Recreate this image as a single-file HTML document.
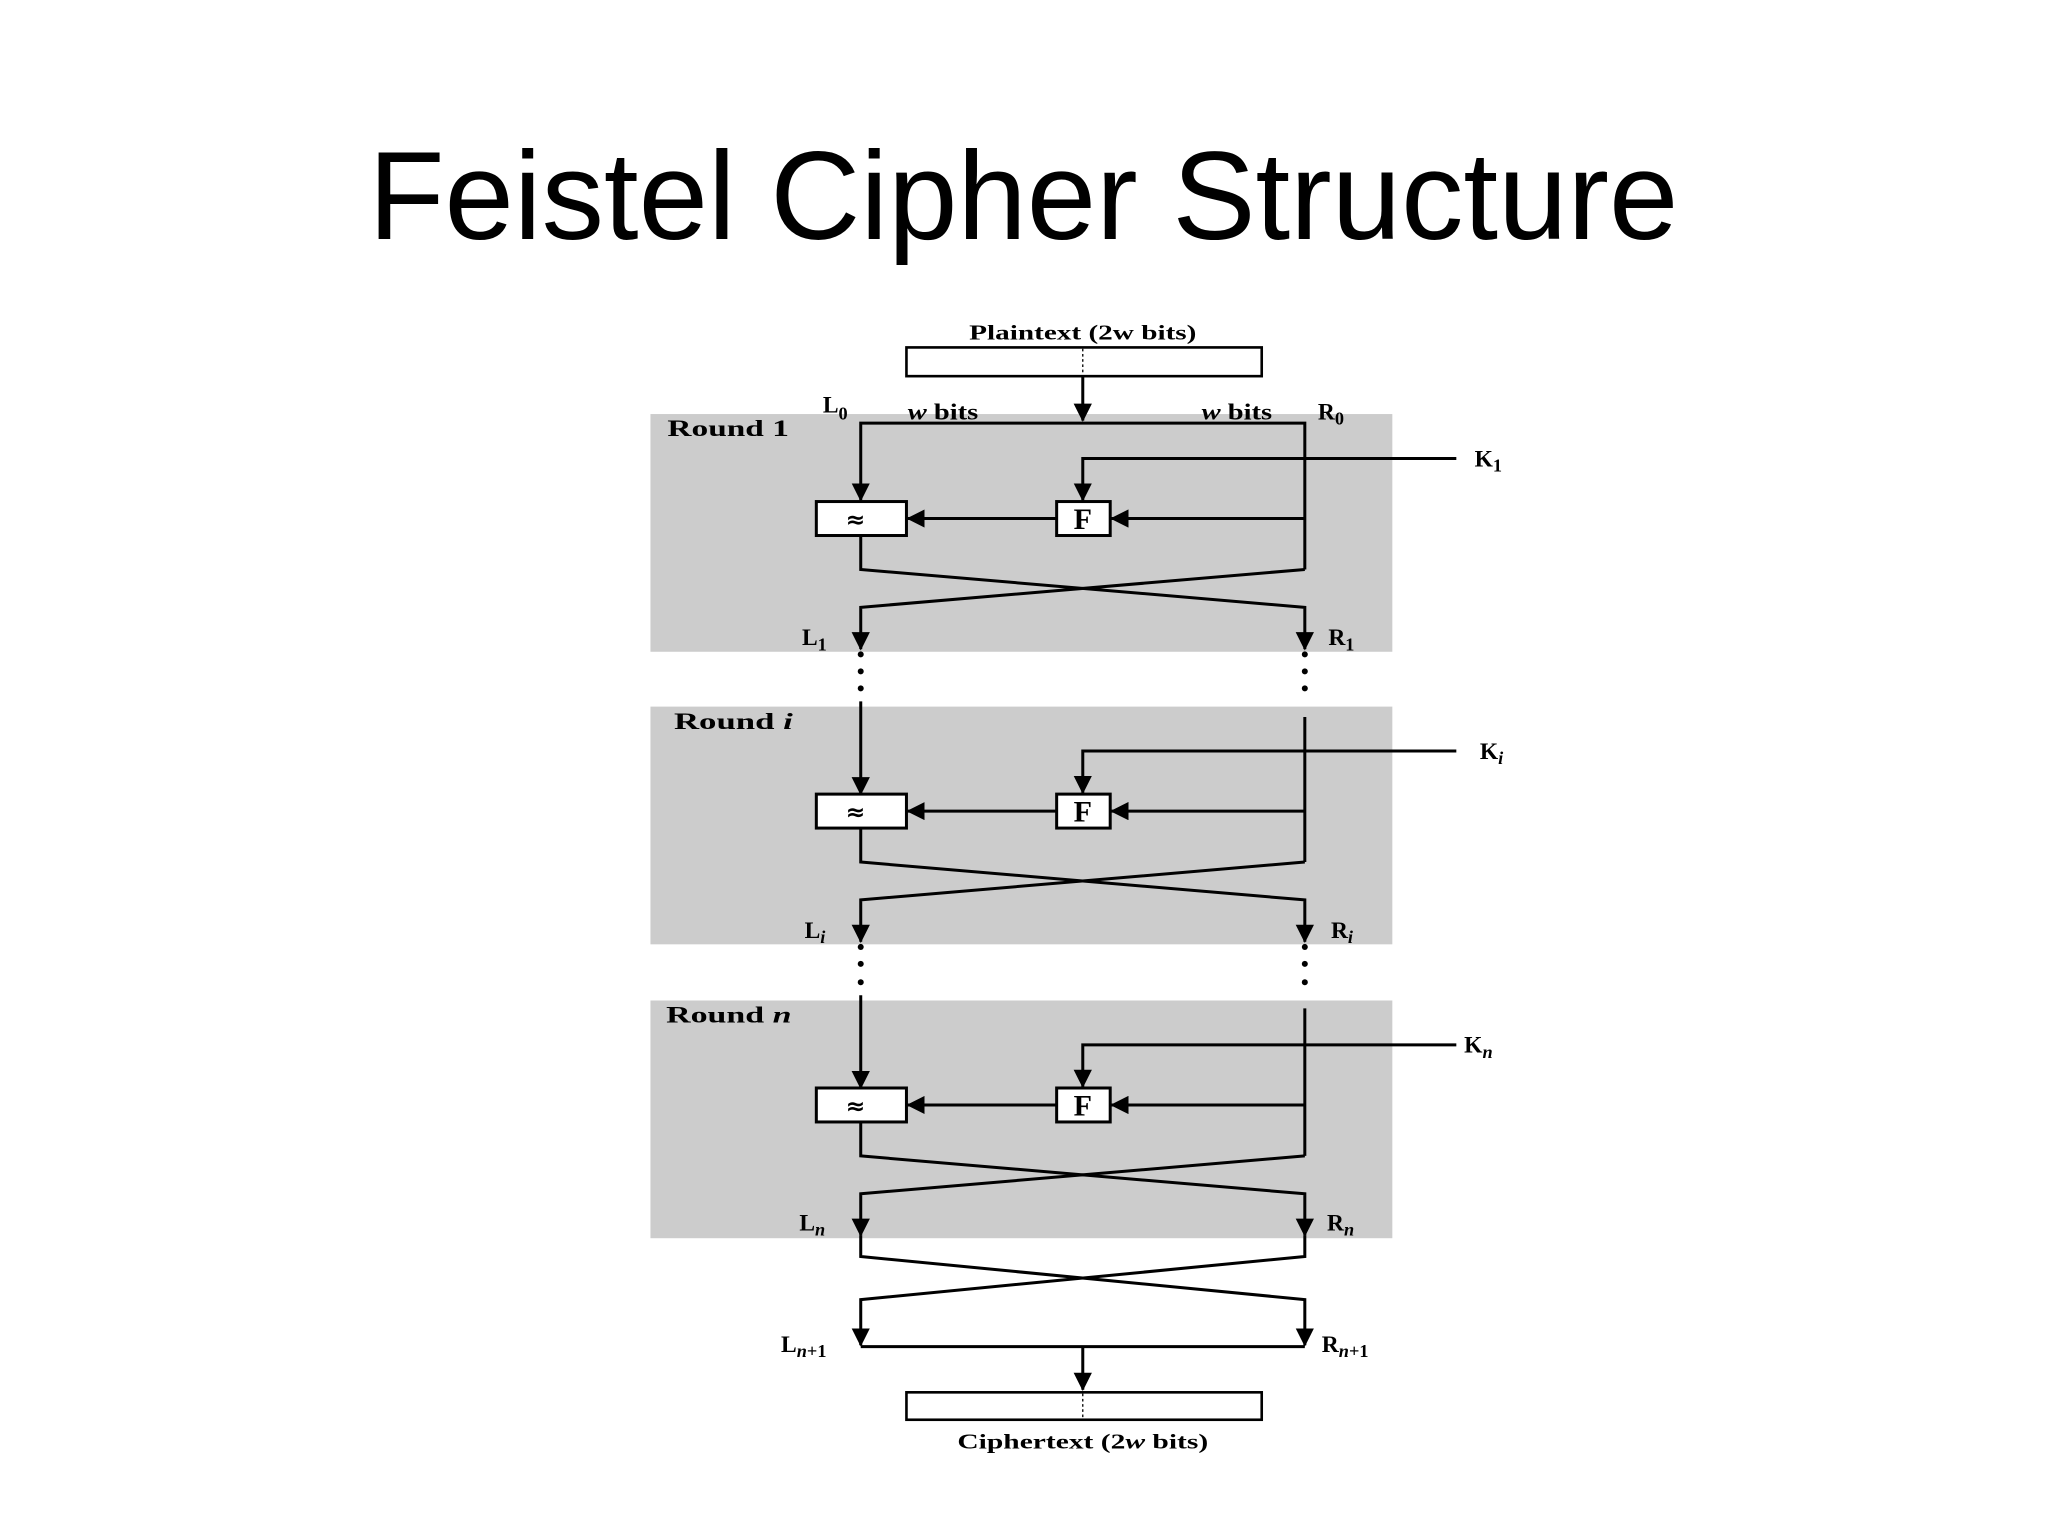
<!DOCTYPE html>
<html><head><meta charset="utf-8"><style>html,body{margin:0;padding:0;background:#fff}svg{display:block}</style></head>
<body>
<svg width="2048" height="1536" viewBox="0 0 1568 1176" xmlns="http://www.w3.org/2000/svg">
<defs>
<marker id="b" markerWidth="14" markerHeight="14" refX="13" refY="7" orient="auto" markerUnits="userSpaceOnUse" viewBox="0 0 14 14"><path d="M0,0 L14,7 L0,14 z" fill="#000"/></marker>
</defs>
<text x="282" y="183" font-family="Liberation Sans, sans-serif" font-size="96" textLength="1003" lengthAdjust="spacingAndGlyphs">Feistel Cipher Structure</text>
<g font-family="Liberation Serif, serif" font-weight="bold" font-size="16" fill="#000">
<text x="742" y="260" textLength="174" lengthAdjust="spacingAndGlyphs">Plaintext (2w bits)</text>
<text x="733" y="1109" textLength="192" lengthAdjust="spacingAndGlyphs">Ciphertext (2<tspan font-style="italic">w</tspan> bits)</text>
</g>
<rect x="694" y="266" width="272" height="22" fill="#fff" stroke="#000" stroke-width="2"/>
<line x1="829" y1="267" x2="829" y2="287" stroke="#000" stroke-dasharray="2,2"/>
<rect x="694" y="1066" width="272" height="21" fill="#fff" stroke="#000" stroke-width="2"/>
<line x1="829" y1="1067" x2="829" y2="1086" stroke="#000" stroke-dasharray="2,2"/>
<g fill="#ccc"><rect x="498" y="317" width="568" height="182"/><rect x="498" y="541" width="568" height="182"/><rect x="498" y="766" width="568" height="182"/></g>
<g stroke="#000" stroke-width="2.3" fill="none">
<line x1="829" y1="288" x2="829" y2="322" marker-end="url(#b)"/>
<polyline points="999,436 999,324 659,324 659,383" marker-end="url(#b)"/>
<polyline points="999,772 999,885"/>
<polyline points="999,549 999,660"/>
<line x1="659" y1="537" x2="659" y2="608" marker-end="url(#b)"/>
<line x1="659" y1="762" x2="659" y2="833" marker-end="url(#b)"/>
</g>
<g id="r" stroke="#000" stroke-width="2.3" fill="none">
<polyline points="1115,351 829,351 829,383" marker-end="url(#b)"/>
<line x1="999" y1="397" x2="851" y2="397" marker-end="url(#b)"/>
<line x1="809" y1="397" x2="695" y2="397" marker-end="url(#b)"/>
<rect x="625" y="384" width="69" height="26" fill="#fff"/>
<rect x="809" y="384" width="41" height="26" fill="#fff"/>
<polyline points="659,410 659,436 999,465 999,497" marker-end="url(#b)"/>
<polyline points="999,436 659,465 659,497" marker-end="url(#b)"/>
<text x="655" y="404" stroke="none" fill="#000" font-family="DejaVu Sans, sans-serif" font-weight="bold" font-size="18" text-anchor="middle">≈</text>
<text x="829" y="405" stroke="none" fill="#000" font-family="Liberation Serif, serif" font-weight="bold" font-size="23" text-anchor="middle">F</text>
</g>
<use href="#r" transform="translate(0,224)"/>
<use href="#r" transform="translate(0,449)"/>
<g stroke="#000" stroke-width="2.3" fill="none">
<polyline points="659,946 659,962 999,995 999,1030" marker-end="url(#b)"/>
<polyline points="999,946 999,962 659,995 659,1030" marker-end="url(#b)"/>
<line x1="659" y1="1031" x2="999" y2="1031"/>
<line x1="829" y1="1031" x2="829" y2="1064" marker-end="url(#b)"/>
</g>
<g fill="#000">
<circle cx="659" cy="501" r="2.3"/><circle cx="659" cy="514" r="2.3"/><circle cx="659" cy="527" r="2.3"/>
<circle cx="999" cy="501" r="2.3"/><circle cx="999" cy="514" r="2.3"/><circle cx="999" cy="527" r="2.3"/>
<circle cx="659" cy="725" r="2.3"/><circle cx="659" cy="738" r="2.3"/><circle cx="659" cy="752" r="2.3"/>
<circle cx="999" cy="725" r="2.3"/><circle cx="999" cy="738" r="2.3"/><circle cx="999" cy="752" r="2.3"/>
</g>
<g font-family="Liberation Serif, serif" font-weight="bold" font-size="18" fill="#000">
<text x="511" y="334" textLength="93" lengthAdjust="spacingAndGlyphs">Round 1</text>
<text x="516" y="558" textLength="91" lengthAdjust="spacingAndGlyphs">Round <tspan font-style="italic">i</tspan></text>
<text x="510" y="783" textLength="96" lengthAdjust="spacingAndGlyphs">Round <tspan font-style="italic">n</tspan></text>
<text x="630" y="316">L<tspan font-size="14" dy="5">0</tspan></text>
<text x="1009" y="321">R<tspan font-size="14" dy="4">0</tspan></text>
<text x="695" y="321" textLength="54" lengthAdjust="spacingAndGlyphs"><tspan font-style="italic">w</tspan> bits</text>
<text x="920" y="321" textLength="54" lengthAdjust="spacingAndGlyphs"><tspan font-style="italic">w</tspan> bits</text>
<text x="1129" y="357">K<tspan font-size="14" dy="4">1</tspan></text>
<text x="1133" y="581">K<tspan font-size="14" dy="4" font-style="italic">i</tspan></text>
<text x="1121" y="806">K<tspan font-size="14" dy="4" font-style="italic">n</tspan></text>
<text x="614" y="494">L<tspan font-size="14" dy="4">1</tspan></text>
<text x="1017" y="494">R<tspan font-size="14" dy="4">1</tspan></text>
<text x="616" y="718">L<tspan font-size="14" dy="4" font-style="italic">i</tspan></text>
<text x="1019" y="718">R<tspan font-size="14" dy="4" font-style="italic">i</tspan></text>
<text x="612" y="942">L<tspan font-size="14" dy="4" font-style="italic">n</tspan></text>
<text x="1016" y="942">R<tspan font-size="14" dy="4" font-style="italic">n</tspan></text>
<text x="598" y="1035">L<tspan font-size="14" dy="4"><tspan font-style="italic">n</tspan>+1</tspan></text>
<text x="1012" y="1035">R<tspan font-size="14" dy="4"><tspan font-style="italic">n</tspan>+1</tspan></text>
</g>
</svg>
</body></html>
